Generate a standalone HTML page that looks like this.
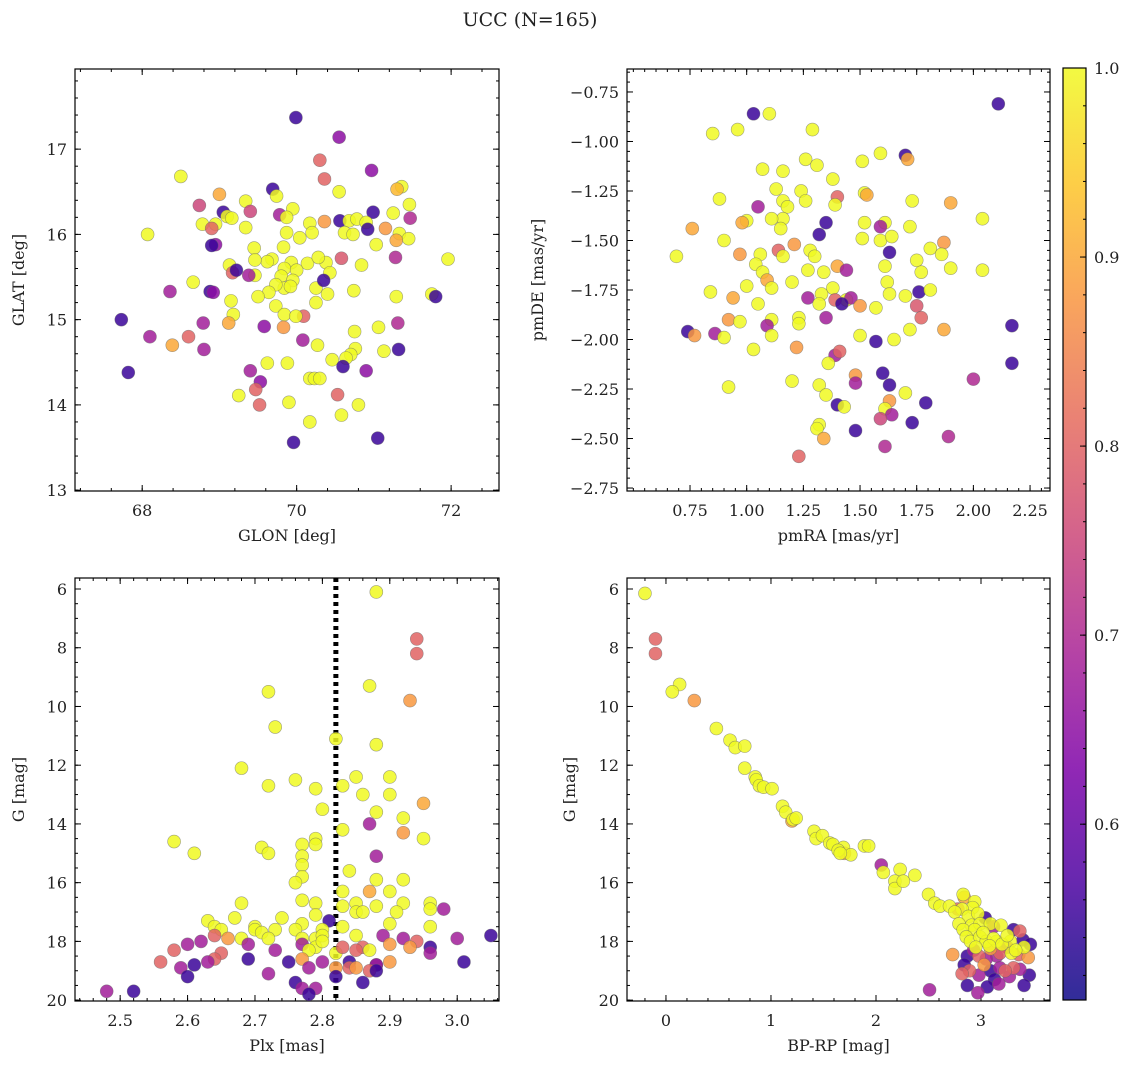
<!DOCTYPE html>
<html><head><meta charset="utf-8"><style>
body{margin:0;background:#fff}
svg text{font-family:"DejaVu Serif","Liberation Serif",serif;fill:#222}
</style></head><body>
<svg id="chart" width="1136" height="1068" xmlns="http://www.w3.org/2000/svg">
<defs><linearGradient id="cbg" x1="0" y1="1" x2="0" y2="0">
<stop offset="0" stop-color="#0d0887"/><stop offset="0.125" stop-color="#4c02a1"/><stop offset="0.25" stop-color="#7e03a8"/><stop offset="0.375" stop-color="#a92395"/><stop offset="0.5" stop-color="#cc4778"/><stop offset="0.625" stop-color="#e66c5c"/><stop offset="0.75" stop-color="#f89540"/><stop offset="0.875" stop-color="#fdc527"/><stop offset="1" stop-color="#f0f921"/></linearGradient></defs>
<text x="530" y="26" text-anchor="middle" font-size="19">UCC (N=165)</text>
</svg>
<script>
// ---- data ----
const glon=[69.99,70.55,68.5,70.3,70.36,70.97,70.55,71.36,71.3,69.69,69.74,69.0,68.74,69.34,71.46,69.05,69.4,69.78,69.95,69.87,70.17,70.36,70.56,70.68,70.78,70.99,70.9,71.25,71.47,69.1,69.16,68.78,68.95,68.9,69.34,68.07,69.87,70.04,70.2,70.62,70.73,70.92,71.15,71.33,71.45,71.03,71.29,68.95,68.9,69.45,69.83,70.58,70.38,69.68,69.62,69.93,70.14,70.28,71.28,71.96,70.84,69.13,69.46,69.17,69.22,69.46,69.38,69.84,70.0,70.43,68.66,69.8,69.95,70.25,70.35,69.84,69.92,69.73,69.64,70.74,70.4,68.36,68.88,68.92,71.75,71.8,71.29,69.5,69.15,70.25,69.73,69.18,67.73,69.84,70.09,69.99,69.12,68.79,69.58,69.83,70.75,71.06,71.31,68.1,68.6,70.08,70.27,68.39,68.8,71.32,71.13,70.76,70.7,70.64,70.46,69.62,69.88,70.6,70.9,67.82,69.4,70.17,70.23,70.3,69.53,69.47,70.53,69.25,70.8,69.9,69.52,70.58,70.17,69.96,71.05];
const glat=[17.37,17.14,16.68,16.87,16.65,16.75,16.5,16.56,16.53,16.53,16.45,16.47,16.34,16.39,16.35,16.26,16.27,16.23,16.3,16.2,16.13,16.15,16.16,16.16,16.18,16.26,16.14,16.25,16.19,16.21,16.19,16.12,16.12,16.07,16.08,16.0,16.02,15.96,16.02,16.02,16.0,16.06,16.07,16.01,15.95,15.88,15.93,15.88,15.87,15.84,15.85,15.72,15.67,15.71,15.68,15.67,15.66,15.73,15.73,15.71,15.64,15.64,15.7,15.55,15.58,15.52,15.52,15.6,15.58,15.55,15.44,15.51,15.46,15.37,15.46,15.37,15.39,15.41,15.32,15.34,15.3,15.33,15.33,15.32,15.3,15.27,15.27,15.27,15.22,15.2,15.16,15.06,15.0,15.06,15.04,15.04,14.96,14.96,14.92,14.91,14.86,14.91,14.96,14.8,14.8,14.76,14.7,14.7,14.65,14.65,14.63,14.66,14.59,14.55,14.53,14.49,14.49,14.45,14.4,14.38,14.4,14.31,14.31,14.31,14.27,14.18,14.12,14.11,14.0,14.03,14.0,13.88,13.8,13.56,13.61];
const prob1=[0.55,0.65,1,0.8,0.8,0.65,1,1,0.92,0.55,1,0.9,0.75,1,1,0.55,0.75,0.68,1,1,1,0.88,0.55,1,1,0.55,1,1,0.7,1,1,1,1,0.8,1,1,1,1,1,1,1,0.55,0.88,1,1,1,0.9,0.65,0.55,1,1,0.78,1,1,1,1,1,1,0.7,1,1,1,1,0.8,0.55,1,0.68,1,1,1,1,1,1,1,0.55,1,1,1,1,1,1,0.68,0.55,0.65,1,0.55,1,1,1,1,1,1,0.55,1,0.8,1,0.9,0.68,0.65,0.88,1,1,0.7,0.68,0.8,0.68,1,0.9,0.68,0.55,1,1,1,1,1,1,1,0.55,0.65,0.55,0.68,1,1,1,0.65,0.8,0.8,1,1,1,0.8,1,1,0.55,0.55];
const pmra=[2.11,1.03,1.10,0.85,0.96,1.29,1.70,1.59,1.51,1.71,1.26,1.31,1.07,1.16,1.38,0.88,1.13,1.24,1.4,1.52,1.16,1.18,1.26,1.39,1.53,1.73,1.9,1.05,1.0,0.98,1.16,1.11,1.35,1.61,1.52,1.59,1.72,2.04,0.76,1.15,1.32,1.51,1.59,1.64,1.87,0.9,1.21,1.81,1.14,1.28,0.97,1.06,1.16,1.3,1.63,1.86,0.69,1.75,1.04,1.4,1.61,1.9,2.04,1.07,1.27,1.34,1.44,1.77,1.09,1.2,1.62,1.0,1.11,1.38,1.33,1.27,1.44,1.46,1.39,1.7,1.63,1.76,1.81,0.84,0.94,1.42,1.5,1.75,1.05,1.32,1.57,0.92,0.97,1.11,1.23,1.23,1.35,1.77,1.72,1.87,2.17,1.09,1.5,0.74,0.77,0.86,0.9,1.11,1.57,1.65,1.03,1.22,1.39,1.41,1.36,2.17,1.6,1.48,2.0,1.2,0.92,1.32,1.48,1.63,1.35,1.7,1.4,1.43,1.63,1.79,1.61,1.64,1.59,1.73,1.32,1.31,1.48,1.89,1.34,1.61,1.23];
const pmde=[-0.81,-0.86,-0.86,-0.96,-0.94,-0.94,-1.07,-1.06,-1.1,-1.09,-1.09,-1.12,-1.14,-1.15,-1.19,-1.29,-1.24,-1.25,-1.28,-1.26,-1.30,-1.33,-1.3,-1.32,-1.27,-1.3,-1.31,-1.33,-1.4,-1.41,-1.39,-1.39,-1.41,-1.41,-1.41,-1.43,-1.43,-1.39,-1.44,-1.44,-1.47,-1.49,-1.5,-1.48,-1.51,-1.5,-1.52,-1.54,-1.55,-1.55,-1.57,-1.57,-1.58,-1.58,-1.56,-1.57,-1.58,-1.6,-1.62,-1.63,-1.63,-1.64,-1.65,-1.66,-1.65,-1.66,-1.65,-1.66,-1.7,-1.71,-1.71,-1.73,-1.74,-1.74,-1.77,-1.79,-1.8,-1.79,-1.8,-1.78,-1.77,-1.76,-1.75,-1.76,-1.79,-1.82,-1.83,-1.83,-1.82,-1.82,-1.84,-1.9,-1.91,-1.9,-1.89,-1.92,-1.89,-1.89,-1.95,-1.95,-1.93,-1.93,-1.98,-1.96,-1.98,-1.97,-1.99,-1.98,-2.01,-2.0,-2.05,-2.04,-2.08,-2.06,-2.12,-2.12,-2.17,-2.18,-2.2,-2.21,-2.24,-2.23,-2.22,-2.23,-2.28,-2.27,-2.33,-2.34,-2.31,-2.32,-2.35,-2.38,-2.4,-2.42,-2.43,-2.45,-2.46,-2.49,-2.5,-2.54,-2.59];
const prob2=[0.55,0.55,1,1,1,1,0.55,1,1,0.9,1,1,1,1,1,1,1,1,0.8,1,1,1,1,1,0.9,1,0.9,0.68,1,0.9,1,1,0.55,1,1,0.68,1,1,0.9,1,0.55,1,1,1,0.88,1,0.88,1,0.8,1,0.88,1,1,1,0.55,1,1,1,1,0.9,1,1,1,1,1,1,0.68,1,0.9,1,1,1,1,1,1,0.68,1,0.68,0.8,1,1,0.55,1,1,0.9,0.55,0.88,0.78,1,1,1,0.88,1,1,1,1,0.68,0.8,1,0.9,0.55,0.68,1,0.55,0.88,0.68,1,1,0.55,1,1,0.88,0.68,0.8,1,0.55,0.55,0.88,0.7,1,1,1,0.68,0.55,1,1,0.55,1,0.88,0.55,1,0.68,0.75,0.55,1,1,0.55,0.7,0.9,0.7,0.8];
const plx=[2.88,2.94,2.94,2.87,2.72,2.93,2.73,2.82,2.88,2.68,2.76,2.85,2.72,2.83,2.79,2.9,2.86,2.9,2.95,2.88,2.8,2.92,2.87,2.83,2.92,2.79,2.58,2.95,2.77,2.71,2.79,2.72,2.61,2.88,2.77,2.77,2.84,2.77,2.88,2.76,2.92,2.83,2.9,2.87,2.92,2.96,2.68,2.77,2.79,2.83,2.85,2.88,2.96,2.98,2.67,2.63,2.74,2.79,2.85,2.86,2.91,2.77,2.81,2.64,2.65,2.7,2.7,2.73,2.76,2.71,2.8,2.83,2.9,2.96,2.64,2.66,2.68,2.72,2.77,2.79,2.8,2.85,2.89,2.92,2.94,3.0,3.05,2.62,2.6,2.69,2.77,2.79,2.8,2.86,2.9,2.93,2.96,2.58,2.65,2.73,2.78,2.82,2.83,2.85,2.87,2.96,2.56,2.64,2.63,2.61,2.69,2.77,2.8,2.75,2.84,2.88,2.9,3.01,2.59,2.78,2.82,2.84,2.85,2.88,2.87,2.88,2.72,2.6,2.82,2.76,2.77,2.86,2.52,2.48,2.79,2.78];
const gmag3=[6.1,7.7,8.2,9.3,9.5,9.8,10.7,11.1,11.3,12.1,12.5,12.4,12.7,12.7,12.8,12.4,13.0,13.0,13.3,13.6,13.5,13.8,14.0,14.2,14.3,14.5,14.6,14.5,14.7,14.8,14.7,15.0,15.0,15.1,15.1,15.4,15.6,15.8,15.9,16.0,15.9,16.3,16.3,16.3,16.7,16.7,16.7,16.6,16.7,16.8,16.7,16.8,16.9,16.9,17.2,17.3,17.2,17.1,17.0,17.0,17.0,17.4,17.3,17.5,17.6,17.5,17.6,17.6,17.6,17.7,17.6,17.5,17.4,17.5,17.8,17.9,17.9,17.9,17.9,17.9,17.8,17.8,17.8,17.9,18.0,17.9,17.8,18.0,18.1,18.1,18.1,18.2,18.0,18.2,18.1,18.2,18.2,18.3,18.4,18.3,18.3,18.4,18.2,18.3,18.3,18.4,18.7,18.6,18.7,18.8,18.6,18.6,18.7,18.7,18.7,18.8,18.7,18.7,18.9,18.9,18.9,18.9,18.9,18.8,19.0,19.0,19.1,19.2,19.2,19.4,19.6,19.4,19.7,19.7,19.6,19.8];
const prob3=[1,0.8,0.8,1,1,0.88,1,1,1,1,1,1,1,1,1,1,1,1,0.9,1,1,1,0.68,1,0.88,1,1,1,1,1,1,1,1,0.68,1,1,1,1,1,1,1,1,1,0.9,1,1,1,1,1,1,1,1,1,0.68,1,1,1,1,1,1,1,1,0.55,1,1,1,1,1,1,1,1,1,1,1,0.8,0.88,1,1,1,1,1,1,0.68,0.68,0.8,0.68,0.55,0.68,0.68,0.68,0.68,1,1,0.8,0.88,0.88,0.55,0.8,0.8,0.68,1,1,0.8,0.8,1,0.68,0.8,0.8,0.68,0.55,0.55,0.88,0.68,0.55,0.55,0.55,0.88,0.55,0.68,0.68,0.88,0.8,0.88,0.68,0.8,0.55,0.68,0.55,0.55,0.55,0.68,0.55,0.55,0.68,0.68,0.55];
const bprp=[-0.2,-0.1,-0.1,0.13,0.06,0.27,0.48,0.61,0.66,0.75,0.75,0.85,0.86,0.89,0.93,1.01,1.11,1.14,1.21,1.2,1.24,1.41,1.43,1.49,1.56,1.59,1.69,1.64,1.7,1.76,1.66,1.89,1.93,2.05,2.07,2.23,2.37,2.18,2.18,2.26,2.5,2.56,2.61,2.7,2.78,2.83,2.84,2.94,2.92,2.82,2.88,2.75,2.97,3.04,2.79,2.91,2.99,3.09,2.83,2.94,3.12,3.19,3.37,3.31,2.86,2.9,2.99,3.05,3.15,3.28,3.4,3.41,3.47,2.93,3.09,3.25,3.29,2.87,2.98,3.15,3.36,2.73,3.45,2.84,3.03,3.18,3.31,2.89,3.09,3.23,3.37,2.82,2.98,3.46,3.13,3.27,2.87,3.06,3.17,3.41,2.51,2.97,3.18,3.05,3.02,3.12,3.2,2.95,3.08,3.25,3.33];
const gmag4=[6.15,7.7,8.2,9.25,9.5,9.8,10.75,11.15,11.4,11.35,12.1,12.4,12.5,12.7,12.75,12.8,13.4,13.6,13.85,13.9,13.8,14.25,14.5,14.4,14.65,14.7,14.8,14.9,15.0,15.05,15.0,14.75,14.75,15.4,15.65,15.55,15.75,15.95,16.2,15.95,16.4,16.7,16.8,16.8,16.9,16.4,16.5,16.65,16.85,16.9,17.15,17.0,17.05,17.2,17.4,17.45,17.4,17.4,17.6,17.6,17.5,17.45,17.65,17.6,17.85,18.0,17.85,18.0,18.0,18.0,17.95,18.2,18.1,18.3,18.25,18.2,18.4,18.5,18.5,18.5,18.45,18.45,18.55,18.8,18.8,18.9,18.9,19.0,19.0,19.0,18.95,19.1,19.15,19.15,19.3,19.2,19.5,19.55,19.45,19.5,19.65,19.75,18.4,18.6,17.7,17.9,18.1,18.2,18.15,17.8,18.3];
const prob4=[1,0.8,0.8,1,1,0.88,1,1,1,1,1,1,1,1,1,1,1,1,1,0.9,1,1,1,1,1,1,1,1,0.9,1,1,1,1,0.68,1,1,1,1,1,1,1,1,1,1,0.8,1,0.9,1,1,1,1,1,1,0.55,1,1,1,1,1,1,0.68,1,0.8,0.55,1,1,1,1,1,1,0.55,1,0.55,0.68,0.88,0.68,1,0.55,0.8,0.68,0.8,0.88,0.88,0.55,0.88,0.68,0.8,0.8,0.55,0.8,0.68,0.8,0.68,0.55,0.55,0.68,0.55,0.55,0.68,0.55,0.68,0.68,0.8,0.68,1,1,1,1,1,1,1];
const xTicks1=[68,70,72], yTicks1=[13,14,15,16,17];
const xTicks2=[0.75,1.0,1.25,1.5,1.75,2.0,2.25], yTicks2=[-0.75,-1.0,-1.25,-1.5,-1.75,-2.0,-2.25,-2.5,-2.75];
const xTicks3=[2.5,2.6,2.7,2.8,2.9,3.0], yTicksG=[6,8,10,12,14,16,18,20];
const xTicks4=[0,1,2,3];
const cbTicks=[0.6,0.7,0.8,0.9,1.0];
const plxLine=2.82;
const vmin=0.507, vmax=1.0;

const NS="http://www.w3.org/2000/svg";
const svg=document.getElementById('chart');
function mk(tag,attrs,parent){const e=document.createElementNS(NS,tag);for(const k in attrs)e.setAttribute(k,attrs[k]);(parent||svg).appendChild(e);return e;}
const stops=[[0,[13,8,135]],[0.125,[76,2,161]],[0.25,[126,3,168]],[0.375,[169,35,149]],[0.5,[204,71,120]],[0.625,[230,108,92]],[0.75,[248,149,64]],[0.875,[253,197,39]],[1,[240,249,33]]];
function cmap(v){let t=Math.max(0,Math.min(1,(v-vmin)/(vmax-vmin)));for(let i=1;i<stops.length;i++){if(t<=stops[i][0]){const a=stops[i-1],b=stops[i];const f=(t-a[0])/(b[0]-a[0]);const c=a[1].map((x,j)=>Math.round(x+(b[1][j]-x)*f));return `rgb(${c})`;}}return 'rgb(240,249,33)';}
function fmt(v,d){return (v<0?'\u2212':'')+Math.abs(v).toFixed(d);}

function panel(cfg){
  const {L,R,T,B,xd,yd,xs,ys,xt,yt,xminor,yminor,xdec,ydec,xlab,ylab,name}=cfg;
  const sx=v=>L+(v-xd[0])/(xd[1]-xd[0])*(R-L);
  const sy=v=>T+(v-yd[0])/(yd[1]-yd[0])*(B-T);
  const g=mk('g',{});
  
  
  mk('rect',{x:L,y:T,width:R-L,height:B-T,fill:'none',stroke:'#000','stroke-width':1.2},g);
  const lo=Math.min(...xd),hi=Math.max(...xd);
  for(let v=Math.ceil(lo/xminor-1e-6)*xminor;v<=hi+1e-9;v+=xminor){const x=sx(v);mk('line',{x1:x,x2:x,y1:B,y2:B-3,stroke:'#000'},g);mk('line',{x1:x,x2:x,y1:T,y2:T+3,stroke:'#000'},g);}
  const ylo=Math.min(...yd),yhi=Math.max(...yd);
  for(let v=Math.ceil(ylo/yminor-1e-6)*yminor;v<=yhi+1e-9;v+=yminor){const y=sy(v);mk('line',{x1:L,x2:L+3,y1:y,y2:y,stroke:'#000'},g);mk('line',{x1:R,x2:R-3,y1:y,y2:y,stroke:'#000'},g);}
  xt.forEach(v=>{const x=sx(v);mk('line',{x1:x,x2:x,y1:B,y2:B-6,stroke:'#000'},g);mk('line',{x1:x,x2:x,y1:T,y2:T+6,stroke:'#000'},g);
    const t=mk('text',{x:x,y:B+25,'text-anchor':'middle','font-size':16},g);t.textContent=fmt(v,xdec);
    
    });
  yt.forEach(v=>{const y=sy(v);mk('line',{x1:L,x2:L+6,y1:y,y2:y,stroke:'#000'},g);mk('line',{x1:R,x2:R-6,y1:y,y2:y,stroke:'#000'},g);
    const t=mk('text',{x:L-8,y:y+6,'text-anchor':'end','font-size':16},g);t.textContent=fmt(v,ydec);
    
    });
  const xl=mk('text',{x:(L+R)/2,y:B+50,'text-anchor':'middle','font-size':16},g);xl.textContent=xlab;
  
  
  const ylx=cfg.ylx;
  const yl=mk('text',{x:ylx,y:(T+B)/2,'text-anchor':'middle','font-size':16,transform:`rotate(-90 ${ylx} ${(T+B)/2})`},g);yl.textContent=ylab;
  
  
  if(cfg.vline!==undefined){const x=sx(cfg.vline);const l=mk('line',{x1:x,x2:x,y1:T,y2:B,stroke:'#000','stroke-width':5,'stroke-dasharray':'4,4'},g);
    
    }
  const idx=xs.map((_,i)=>i);
  if(cfg.sort) idx.sort((a,b)=>cfg.ps[a]-cfg.ps[b]);
  idx.forEach(i=>{const c=mk('circle',{cx:sx(xs[i]),cy:sy(ys[i]),r:6.5,fill:cmap(cfg.ps[i]),'fill-opacity':0.85,stroke:'#666','stroke-opacity':0.6,'stroke-width':0.6},g);
    
    });
}
panel({name:'glon-glat-panel',L:75,R:499,T:69,B:491,xd:[67.13,72.62],yd:[17.94,12.99],xs:glon,ys:glat,ps:prob1,xt:xTicks1,yt:yTicks1,xminor:0.4,yminor:0.2,xdec:0,ydec:0,xlab:'GLON [deg]',ylab:'GLAT [deg]',ylx:24});
panel({name:'proper-motion-panel',L:627,R:1050,T:69,B:491,xd:[0.472,2.338],yd:[-0.634,-2.765],xs:pmra,ys:pmde,ps:prob2,xt:xTicks2,yt:yTicks2,xminor:0.05,yminor:0.05,xdec:2,ydec:2,xlab:'pmRA [mas/yr]',ylab:'pmDE [mas/yr]',ylx:543});
panel({name:'plx-g-panel',L:75,R:499,T:578,B:1001,xd:[2.433,3.062],yd:[5.625,20.03],xs:plx,ys:gmag3,ps:prob3,xt:xTicks3,yt:yTicksG,xminor:0.02,yminor:0.5,xdec:1,ydec:0,xlab:'Plx [mas]',ylab:'G [mag]',ylx:24,vline:plxLine});
panel({name:'cmd-panel',L:627,R:1050,T:578,B:1001,xd:[-0.371,3.657],yd:[5.625,20.03],xs:bprp,ys:gmag4,ps:prob4,xt:xTicks4,yt:yTicksG,xminor:0.2,yminor:0.5,xdec:0,ydec:0,xlab:'BP-RP [mag]',ylab:'G [mag]',ylx:575,sort:true});
const cb=mk('g',{});


const cT=68,cB=1000,cL=1063,cR=1086;
const cy=v=>cB-(v-vmin)/(vmax-vmin)*(cB-cT);
mk('rect',{x:cL,y:cT,width:cR-cL,height:cB-cT,fill:'url(#cbg)','fill-opacity':0.85,stroke:'#000','stroke-width':1.2},cb);
for(let v=0.52;v<=1.0001;v+=0.02){const y=cy(v);mk('line',{x1:cR,x2:cR-3,y1:y,y2:y,stroke:'#000'},cb);}
cbTicks.forEach(v=>{const y=cy(v);mk('line',{x1:cR,x2:cR-6,y1:y,y2:y,stroke:'#000'},cb);
  const t=mk('text',{x:cR+8,y:y+6,'font-size':16},cb);t.textContent=v.toFixed(1);
  
  });
</script>
</body></html>
